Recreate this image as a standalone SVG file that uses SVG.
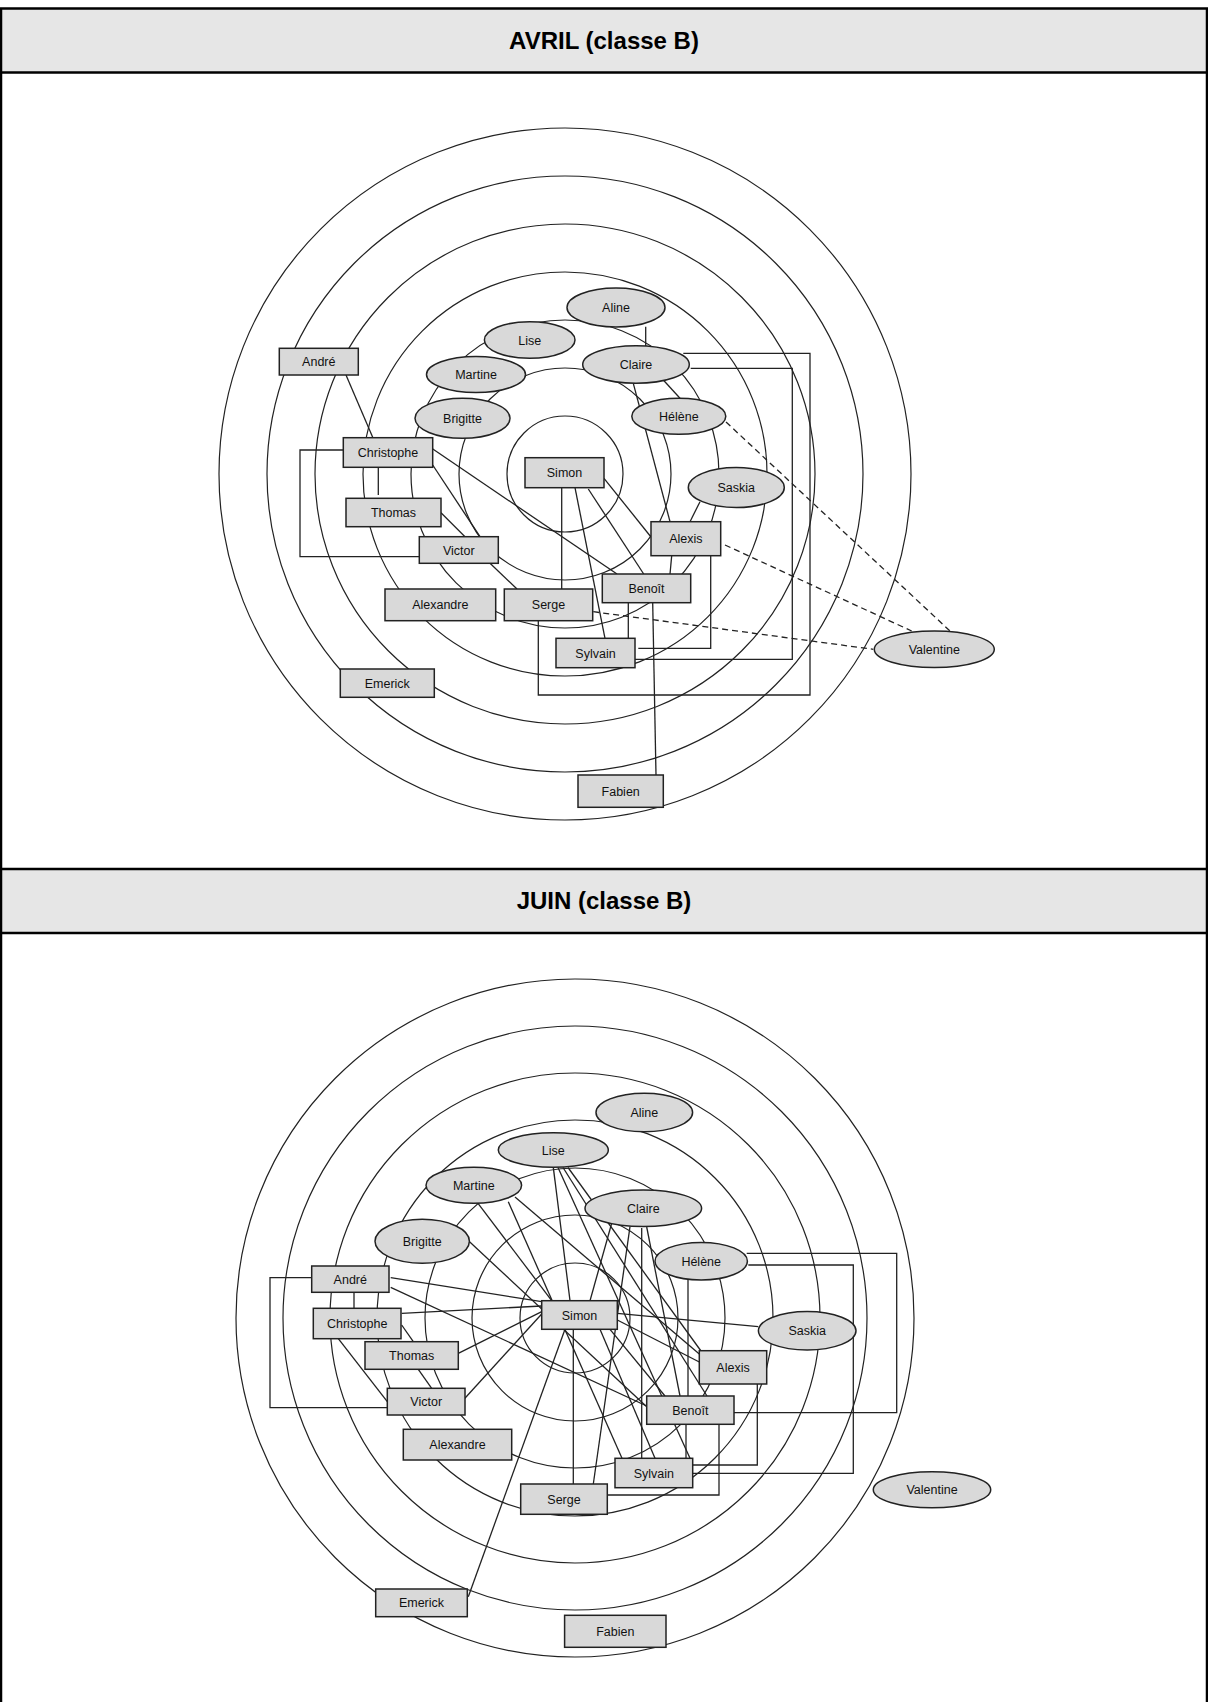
<svg xmlns="http://www.w3.org/2000/svg" width="1208" height="1702" viewBox="0 0 1208 1702">
<style>
  .ring{fill:none;stroke:#222;stroke-width:1.2}
  .edge{fill:none;stroke:#222;stroke-width:1.3}
  .dash{stroke-dasharray:6 4}
  .n rect,.n ellipse{fill:#d9d9d9;stroke:#222;stroke-width:1.5}
  .n text{font-family:"Liberation Sans",Arial,sans-serif;font-size:12.5px;text-anchor:middle;fill:#111}
  .hdr{fill:#e6e6e6}
  .rule{stroke:#000;stroke-width:2.5;fill:none}
  .ttl{font-family:"Liberation Sans",Arial,sans-serif;font-size:24px;font-weight:bold;text-anchor:middle;fill:#000}
</style>

<!-- page frame and the two title bars -->
<rect x="0" y="0" width="1208" height="1702" fill="#fff"/>
<rect class="hdr" x="1" y="8.5" width="1206" height="64"/>
<rect class="hdr" x="1" y="869" width="1206" height="64"/>
<path class="rule" d="M1,1702 V8.5 H1207 V1702 M1,72.5 H1207 M1,869 H1207 M1,933 H1207"/>
<text class="ttl" x="604" y="49">AVRIL (classe B)</text>
<text class="ttl" x="604" y="909">JUIN (classe B)</text>

<!-- ===== April sociogram ===== -->
<g id="rings-avril">
  <circle class="ring" cx="565" cy="474" r="58"/>
  <circle class="ring" cx="565" cy="474" r="106"/>
  <circle class="ring" cx="565" cy="474" r="154"/>
  <circle class="ring" cx="565" cy="474" r="202"/>
  <circle class="ring" cx="565" cy="474" r="250"/>
  <circle class="ring" cx="565" cy="474" r="298"/>
  <circle class="ring" cx="565" cy="474" r="346"/>
</g>

<g id="edges-avril">
  <line class="edge" x1="346" y1="375" x2="373" y2="438"/>
  <line class="edge" x1="378.3" y1="467.3" x2="378.3" y2="495"/>
  <path class="edge" d="M343.3,450 H300 V556.7 H419.3"/>
  <line class="edge" x1="432.7" y1="465" x2="480" y2="536.7"/>
  <line class="edge" x1="431.7" y1="448.3" x2="617" y2="574"/>
  <line class="edge" x1="441" y1="512.7" x2="465" y2="536.7"/>
  <line class="edge" x1="561.7" y1="487.7" x2="561.7" y2="589"/>
  <line class="edge" x1="575" y1="487.7" x2="605" y2="638.3"/>
  <line class="edge" x1="588.3" y1="489" x2="643.7" y2="574"/>
  <line class="edge" x1="604" y1="478.3" x2="651" y2="537"/>
  <line class="edge" x1="490" y1="563.3" x2="517" y2="589"/>
  <path class="edge" d="M683.3,353.3 H810 V695 H538.3 V620.7"/>
  <path class="edge" d="M690.7,368.3 H792.3 V659.3 H635"/>
  <path class="edge" d="M710.7,555.7 V648.3 H638.3"/>
  <line class="edge" x1="628.3" y1="602.7" x2="628.3" y2="638.3"/>
  <line class="edge" x1="652.7" y1="602.7" x2="656" y2="775"/>
  <line class="edge" x1="671.7" y1="555.7" x2="670" y2="574"/>
  <line class="edge" x1="690" y1="521.7" x2="700" y2="501.7"/>
  <line class="edge" x1="633.3" y1="383.3" x2="670" y2="521.7"/>
  <line class="edge" x1="663.3" y1="380" x2="680" y2="398.3"/>
  <line class="edge" x1="645.7" y1="326.7" x2="645.7" y2="346"/>
  <line class="edge dash" x1="726" y1="422" x2="950" y2="631"/>
  <line class="edge dash" x1="725" y1="545" x2="911.7" y2="631"/>
  <line class="edge dash" x1="593.3" y1="611.7" x2="873.3" y2="649.3"/>
</g>

<g id="a-aline" class="n"><ellipse cx="616" cy="307.5" rx="49" ry="19.5"/><text x="616" y="312">Aline</text></g>
<g id="a-lise" class="n"><ellipse cx="529.7" cy="340" rx="45.3" ry="18.3"/><text x="529.7" y="344.5">Lise</text></g>
<g id="a-claire" class="n"><ellipse cx="636" cy="364.5" rx="53.3" ry="18.7"/><text x="636" y="369">Claire</text></g>
<g id="a-martine" class="n"><ellipse cx="476" cy="374.5" rx="49.5" ry="18"/><text x="476" y="379">Martine</text></g>
<g id="a-brigitte" class="n"><ellipse cx="462.5" cy="418.3" rx="47.5" ry="20"/><text x="462.5" y="422.8">Brigitte</text></g>
<g id="a-helene" class="n"><ellipse cx="678.8" cy="416.3" rx="47" ry="18"/><text x="678.8" y="420.8">Hélène</text></g>
<g id="a-saskia" class="n"><ellipse cx="736.3" cy="487.5" rx="48" ry="20"/><text x="736.3" y="492">Saskia</text></g>
<g id="a-valentine" class="n"><ellipse cx="934.3" cy="649.3" rx="60" ry="18.3"/><text x="934.3" y="653.8">Valentine</text></g>
<g id="a-andre" class="n"><rect x="279.3" y="348.3" width="79" height="26.7"/><text x="318.8" y="366">André</text></g>
<g id="a-christophe" class="n"><rect x="343.3" y="437.7" width="89.4" height="29.6"/><text x="388" y="457">Christophe</text></g>
<g id="a-thomas" class="n"><rect x="346" y="498.3" width="95" height="28.4"/><text x="393.5" y="517">Thomas</text></g>
<g id="a-victor" class="n"><rect x="419.3" y="536.7" width="79" height="26.6"/><text x="458.8" y="554.5">Victor</text></g>
<g id="a-simon" class="n"><rect x="525" y="457.7" width="79" height="30"/><text x="564.5" y="477.2">Simon</text></g>
<g id="a-alexis" class="n"><rect x="651" y="521.7" width="69.7" height="34"/><text x="685.8" y="543.2">Alexis</text></g>
<g id="a-benoit" class="n"><rect x="602.3" y="574" width="88.4" height="28.7"/><text x="646.5" y="592.8">Benoît</text></g>
<g id="a-alexandre" class="n"><rect x="385" y="589" width="110.7" height="31.7"/><text x="440.3" y="609.3">Alexandre</text></g>
<g id="a-serge" class="n"><rect x="504.3" y="589" width="88.4" height="31.7"/><text x="548.5" y="609.3">Serge</text></g>
<g id="a-sylvain" class="n"><rect x="556" y="638.3" width="79" height="29.4"/><text x="595.5" y="657.5">Sylvain</text></g>
<g id="a-emerick" class="n"><rect x="340.3" y="669" width="94" height="28.3"/><text x="387.3" y="687.7">Emerick</text></g>
<g id="a-fabien" class="n"><rect x="578" y="775" width="85.3" height="32.3"/><text x="620.7" y="795.7">Fabien</text></g>

<!-- ===== June sociogram ===== -->
<g id="rings-juin">
  <circle class="ring" cx="575" cy="1318" r="55"/>
  <circle class="ring" cx="575" cy="1318" r="103"/>
  <circle class="ring" cx="575" cy="1318" r="150"/>
  <circle class="ring" cx="575" cy="1318" r="198"/>
  <circle class="ring" cx="575" cy="1318" r="245"/>
  <circle class="ring" cx="575" cy="1318" r="292"/>
  <circle class="ring" cx="575" cy="1318" r="339"/>
</g>

<g id="edges-juin">
  <path class="edge" d="M311.7,1277.7 H270 V1407.7 H387.3"/>
  <line class="edge" x1="354" y1="1292.3" x2="354" y2="1308.3"/>
  <line class="edge" x1="390.7" y1="1277.7" x2="541.7" y2="1301.7"/>
  <line class="edge" x1="390.7" y1="1287.3" x2="646.7" y2="1406"/>
  <line class="edge" x1="401.7" y1="1313.3" x2="541.7" y2="1306"/>
  <line class="edge" x1="401.7" y1="1325" x2="413.3" y2="1341.7"/>
  <line class="edge" x1="338.3" y1="1338.7" x2="387.3" y2="1401.7"/>
  <line class="edge" x1="418.3" y1="1369.3" x2="431.7" y2="1388.3"/>
  <line class="edge" x1="458.3" y1="1353.3" x2="541.7" y2="1311.7"/>
  <line class="edge" x1="463.3" y1="1400" x2="541.7" y2="1314"/>
  <line class="edge" x1="468.3" y1="1596.7" x2="565" y2="1329.3"/>
  <line class="edge" x1="573.3" y1="1329.3" x2="573.3" y2="1484"/>
  <line class="edge" x1="593.3" y1="1484" x2="630" y2="1226.7"/>
  <line class="edge" x1="617.3" y1="1313.3" x2="758.3" y2="1326.7"/>
  <line class="edge" x1="688" y1="1280" x2="688" y2="1396"/>
  <path class="edge" d="M746.7,1253.3 H896.7 V1412.7 H734"/>
  <path class="edge" d="M748.3,1265 H853.3 V1473.3 H692.7"/>
  <path class="edge" d="M757.3,1384 V1465 H692.7"/>
  <path class="edge" d="M719,1424.3 V1495 H607.3"/>
  <line class="edge" x1="686" y1="1424.3" x2="686" y2="1458.3"/>
  <line class="edge" x1="641.7" y1="1228" x2="641.7" y2="1458.3"/>
  <line class="edge" x1="611.7" y1="1223.3" x2="590" y2="1300.7"/>
  <line class="edge" x1="553.3" y1="1167.3" x2="570" y2="1300.7"/>
  <line class="edge" x1="568" y1="1167.5" x2="701" y2="1351"/>
  <line class="edge" x1="563" y1="1167.5" x2="707" y2="1396"/>
  <line class="edge" x1="558" y1="1167.5" x2="690" y2="1458.3"/>
  <line class="edge" x1="476.7" y1="1201.7" x2="551.7" y2="1300.7"/>
  <line class="edge" x1="508.3" y1="1201.7" x2="622" y2="1458.3"/>
  <line class="edge" x1="515" y1="1197" x2="699.3" y2="1354"/>
  <line class="edge" x1="469" y1="1241.3" x2="646.7" y2="1406.7"/>
  <line class="edge" x1="646.7" y1="1227" x2="680" y2="1396"/>
  <line class="edge" x1="617.3" y1="1320" x2="699.3" y2="1362"/>
  <line class="edge" x1="610" y1="1329.3" x2="665" y2="1396"/>
  <line class="edge" x1="600" y1="1329.3" x2="655" y2="1458.3"/>
</g>

<g id="j-aline" class="n"><ellipse cx="644.3" cy="1112.5" rx="48.3" ry="19.2"/><text x="644.3" y="1117">Aline</text></g>
<g id="j-lise" class="n"><ellipse cx="553.3" cy="1150" rx="55" ry="17.3"/><text x="553.3" y="1154.5">Lise</text></g>
<g id="j-martine" class="n"><ellipse cx="473.8" cy="1185.3" rx="47.8" ry="18"/><text x="473.8" y="1189.8">Martine</text></g>
<g id="j-claire" class="n"><ellipse cx="643.3" cy="1208.3" rx="58.3" ry="18.3"/><text x="643.3" y="1212.8">Claire</text></g>
<g id="j-brigitte" class="n"><ellipse cx="422.2" cy="1241.3" rx="47.2" ry="22"/><text x="422.2" y="1245.8">Brigitte</text></g>
<g id="j-helene" class="n"><ellipse cx="701.2" cy="1261.2" rx="46.2" ry="18.8"/><text x="701.2" y="1265.7">Hélène</text></g>
<g id="j-saskia" class="n"><ellipse cx="807.2" cy="1330.8" rx="48.8" ry="19.2"/><text x="807.2" y="1335.3">Saskia</text></g>
<g id="j-valentine" class="n"><ellipse cx="932" cy="1489.7" rx="58.7" ry="18"/><text x="932" y="1494.2">Valentine</text></g>
<g id="j-andre" class="n"><rect x="311.7" y="1266" width="77.3" height="26.3"/><text x="350.3" y="1283.6">André</text></g>
<g id="j-christophe" class="n"><rect x="313.3" y="1308.3" width="87.7" height="30.4"/><text x="357.2" y="1328">Christophe</text></g>
<g id="j-thomas" class="n"><rect x="365" y="1341.7" width="93.3" height="27.6"/><text x="411.7" y="1360">Thomas</text></g>
<g id="j-victor" class="n"><rect x="387.3" y="1388.3" width="77.7" height="26.7"/><text x="426.2" y="1406.2">Victor</text></g>
<g id="j-alexandre" class="n"><rect x="403.3" y="1429.3" width="108.4" height="30.7"/><text x="457.5" y="1449.2">Alexandre</text></g>
<g id="j-simon" class="n"><rect x="541.7" y="1300.7" width="75.6" height="28.6"/><text x="579.5" y="1319.5">Simon</text></g>
<g id="j-alexis" class="n"><rect x="699.3" y="1350.7" width="67.4" height="33.3"/><text x="733" y="1371.8">Alexis</text></g>
<g id="j-benoit" class="n"><rect x="646.7" y="1396" width="87.3" height="28.3"/><text x="690.3" y="1414.6">Benoît</text></g>
<g id="j-sylvain" class="n"><rect x="615" y="1458.3" width="77.7" height="29.4"/><text x="653.8" y="1477.5">Sylvain</text></g>
<g id="j-serge" class="n"><rect x="520.7" y="1484" width="86.6" height="30.3"/><text x="564" y="1503.6">Serge</text></g>
<g id="j-emerick" class="n"><rect x="375.7" y="1589" width="91.6" height="27.7"/><text x="421.5" y="1607.3">Emerick</text></g>
<g id="j-fabien" class="n"><rect x="564.6" y="1615.3" width="101.4" height="32"/><text x="615.3" y="1635.8">Fabien</text></g>
</svg>
